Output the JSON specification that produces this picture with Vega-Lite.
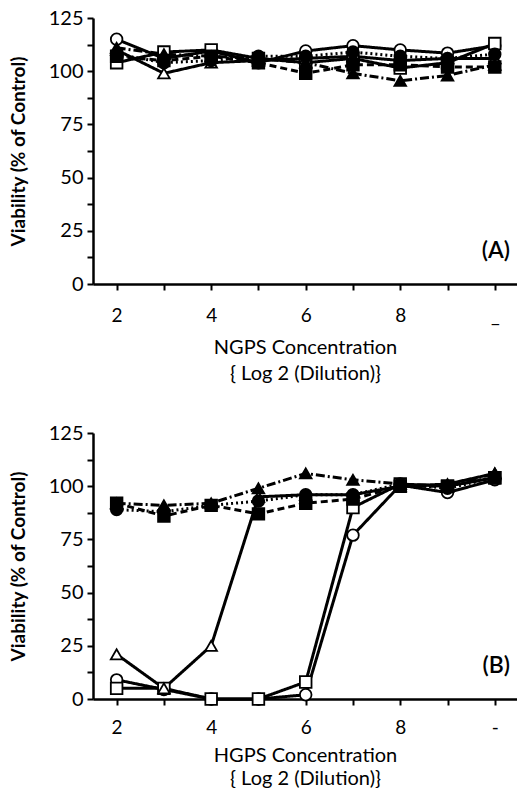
{
 "$schema": "https://vega.github.io/schema/vega-lite/v6.json",
 "padding": {"left": 9, "top": 8, "right": 0, "bottom": 0},
 "spacing": 40,
 "background": "white",
 "config": {
   "view": {"stroke": null},
   "font": "Lato",
   "axis": {"grid": false, "domainColor": "black", "domainWidth": 2.5, "tickColor": "black", "tickWidth": 2, "tickSize": 6, "labelColor": "black", "titleColor": "black", "labelFont": "Lato", "titleFont": "Lato", "labelOverlap": false, "labelFlush": false}
 },
 "datasets": {
  "d": [
   {"panel":"A","series":"s1","x":2,"y":115},{"panel":"A","series":"s1","x":3,"y":106},{"panel":"A","series":"s1","x":4,"y":109.5},{"panel":"A","series":"s1","x":5,"y":104},{"panel":"A","series":"s1","x":6,"y":109.5},{"panel":"A","series":"s1","x":7,"y":112},{"panel":"A","series":"s1","x":8,"y":110},{"panel":"A","series":"s1","x":9,"y":108.5},{"panel":"A","series":"s1","x":10,"y":112},
   {"panel":"A","series":"s2","x":2,"y":104},{"panel":"A","series":"s2","x":3,"y":109},{"panel":"A","series":"s2","x":4,"y":110},{"panel":"A","series":"s2","x":5,"y":106},{"panel":"A","series":"s2","x":6,"y":104},{"panel":"A","series":"s2","x":7,"y":106},{"panel":"A","series":"s2","x":8,"y":101.5},{"panel":"A","series":"s2","x":9,"y":104},{"panel":"A","series":"s2","x":10,"y":113},
   {"panel":"A","series":"s3","x":2,"y":110},{"panel":"A","series":"s3","x":3,"y":99},{"panel":"A","series":"s3","x":4,"y":104},{"panel":"A","series":"s3","x":5,"y":105},{"panel":"A","series":"s3","x":6,"y":106},{"panel":"A","series":"s3","x":7,"y":107},{"panel":"A","series":"s3","x":8,"y":105},{"panel":"A","series":"s3","x":9,"y":106},{"panel":"A","series":"s3","x":10,"y":106},
   {"panel":"A","series":"s4","x":2,"y":107},{"panel":"A","series":"s4","x":3,"y":105},{"panel":"A","series":"s4","x":4,"y":107},{"panel":"A","series":"s4","x":5,"y":104},{"panel":"A","series":"s4","x":6,"y":99},{"panel":"A","series":"s4","x":7,"y":103},{"panel":"A","series":"s4","x":8,"y":103},{"panel":"A","series":"s4","x":9,"y":102},{"panel":"A","series":"s4","x":10,"y":102},
   {"panel":"A","series":"s5","x":2,"y":108},{"panel":"A","series":"s5","x":3,"y":104},{"panel":"A","series":"s5","x":4,"y":105},{"panel":"A","series":"s5","x":5,"y":107},{"panel":"A","series":"s5","x":6,"y":107},{"panel":"A","series":"s5","x":7,"y":109},{"panel":"A","series":"s5","x":8,"y":107},{"panel":"A","series":"s5","x":9,"y":106},{"panel":"A","series":"s5","x":10,"y":108},
   {"panel":"A","series":"s6","x":2,"y":111},{"panel":"A","series":"s6","x":3,"y":108},{"panel":"A","series":"s6","x":4,"y":107},{"panel":"A","series":"s6","x":5,"y":106},{"panel":"A","series":"s6","x":6,"y":104},{"panel":"A","series":"s6","x":7,"y":99},{"panel":"A","series":"s6","x":8,"y":95.5},{"panel":"A","series":"s6","x":9,"y":98},{"panel":"A","series":"s6","x":10,"y":103},
   {"panel":"B","series":"s1","x":2,"y":9},{"panel":"B","series":"s1","x":3,"y":4.5},{"panel":"B","series":"s1","x":4,"y":0},{"panel":"B","series":"s1","x":5,"y":0},{"panel":"B","series":"s1","x":6,"y":2},{"panel":"B","series":"s1","x":7,"y":77},{"panel":"B","series":"s1","x":8,"y":100.5},{"panel":"B","series":"s1","x":9,"y":97},{"panel":"B","series":"s1","x":10,"y":103},
   {"panel":"B","series":"s2","x":2,"y":5},{"panel":"B","series":"s2","x":3,"y":5},{"panel":"B","series":"s2","x":4,"y":0},{"panel":"B","series":"s2","x":5,"y":0},{"panel":"B","series":"s2","x":6,"y":8},{"panel":"B","series":"s2","x":7,"y":90},{"panel":"B","series":"s2","x":8,"y":101},{"panel":"B","series":"s2","x":9,"y":100},{"panel":"B","series":"s2","x":10,"y":104},
   {"panel":"B","series":"s3","x":2,"y":21},{"panel":"B","series":"s3","x":3,"y":5},{"panel":"B","series":"s3","x":4,"y":25},{"panel":"B","series":"s3","x":5,"y":95},{"panel":"B","series":"s3","x":6,"y":96},{"panel":"B","series":"s3","x":7,"y":96},{"panel":"B","series":"s3","x":8,"y":100},{"panel":"B","series":"s3","x":9,"y":101},{"panel":"B","series":"s3","x":10,"y":106},
   {"panel":"B","series":"s4","x":2,"y":92},{"panel":"B","series":"s4","x":3,"y":86},{"panel":"B","series":"s4","x":4,"y":91},{"panel":"B","series":"s4","x":5,"y":87},{"panel":"B","series":"s4","x":6,"y":92},{"panel":"B","series":"s4","x":7,"y":94},{"panel":"B","series":"s4","x":8,"y":100},{"panel":"B","series":"s4","x":9,"y":100},{"panel":"B","series":"s4","x":10,"y":104},
   {"panel":"B","series":"s5","x":2,"y":89},{"panel":"B","series":"s5","x":3,"y":88},{"panel":"B","series":"s5","x":4,"y":91},{"panel":"B","series":"s5","x":5,"y":93},{"panel":"B","series":"s5","x":6,"y":96},{"panel":"B","series":"s5","x":7,"y":96},{"panel":"B","series":"s5","x":8,"y":101},{"panel":"B","series":"s5","x":9,"y":99},{"panel":"B","series":"s5","x":10,"y":104},
   {"panel":"B","series":"s6","x":2,"y":92},{"panel":"B","series":"s6","x":3,"y":91},{"panel":"B","series":"s6","x":4,"y":92},{"panel":"B","series":"s6","x":5,"y":99},{"panel":"B","series":"s6","x":6,"y":106},{"panel":"B","series":"s6","x":7,"y":103},{"panel":"B","series":"s6","x":8,"y":101},{"panel":"B","series":"s6","x":9,"y":100},{"panel":"B","series":"s6","x":10,"y":106}
  ]
 },
 "vconcat": [
  {
   "width": 424, "height": 266,
   "encoding": {
    "x": {"field": "x", "type": "quantitative", "scale": {"domain": [1.5, 10.47], "nice": false, "zero": false},
      "axis": {"values": [2,3,4,5,6,7,8,9,10], "labelExpr": "datum.value == 10 ? '_' : (datum.value % 2 == 0 ? datum.label : '')", "title": ["NGPS Concentration", "{ Log 2 (Dilution)}"], "titleLineHeight": 26, "titleFontSize": 20, "titleFontWeight": "normal", "labelFontSize": 19, "labelPadding": 16, "titlePadding": 12}},
    "y": {"field": "y", "type": "quantitative", "scale": {"domain": [0, 125], "nice": false},
      "axis": {"values": [0,12.5,25,37.5,50,62.5,75,87.5,100,112.5,125], "labelExpr": "datum.value % 25 == 0 ? datum.label : ''", "title": "Viability (% of Control)", "titleFontSize": 19, "titleFontWeight": "bold", "labelFontSize": 20, "titlePadding": 20, "labelPadding": 4}}
   },
   "layer": [
    {"data": {"name": "d"}, "transform": [{"filter": "datum.panel == 'A'"}],
     "mark": {"type": "line", "color": "black"},
     "encoding": {
      "detail": {"field": "series", "type": "nominal"},
      "strokeDash": {"field": "series", "type": "nominal", "scale": {"domain": ["s1","s2","s3","s4","s5","s6"], "range": [[1,0],[1,0],[1,0],[7,4],[2,3],[9,3,2,3]]}, "legend": null},
      "strokeWidth": {"field": "series", "type": "ordinal", "scale": {"domain": ["s1","s2","s3","s4","s5","s6"], "range": [3,3,1.8,3,3,3]}, "legend": null}
     }},
    {"data": {"name": "d"}, "transform": [{"filter": "datum.panel == 'A'"}],
     "mark": {"type": "point", "filled": true, "size": 135, "stroke": "black", "strokeWidth": 1.8, "opacity": 1},
     "encoding": {
      "shape": {"field": "series", "type": "nominal", "scale": {"domain": ["s1","s2","s3","s4","s5","s6"], "range": ["circle","square","triangle-up","square","circle","triangle-up"]}, "legend": null},
      "fill": {"field": "series", "type": "nominal", "scale": {"domain": ["s1","s2","s3","s4","s5","s6"], "range": ["white","white","white","black","black","black"]}, "legend": null}
     }},
    {"data": {"values": [{"x": 10.32, "y": 15.5, "t": "(A)"}]},
     "mark": {"type": "text", "fontSize": 23, "font": "Lato", "fontWeight": 600, "align": "right", "baseline": "middle", "color": "black"},
     "encoding": {"text": {"field": "t", "type": "nominal"}}}
   ]
  },
  {
   "width": 424, "height": 266,
   "encoding": {
    "x": {"field": "x", "type": "quantitative", "scale": {"domain": [1.5, 10.47], "nice": false, "zero": false},
      "axis": {"values": [2,3,4,5,6,7,8,9,10], "labelExpr": "datum.value == 10 ? '-' : (datum.value % 2 == 0 ? datum.label : '')", "title": ["HGPS Concentration", "{ Log 2 (Dilution)}"], "titleLineHeight": 23, "titleFontSize": 20, "titleFontWeight": "normal", "labelFontSize": 19, "labelPadding": 13, "titlePadding": 8}},
    "y": {"field": "y", "type": "quantitative", "scale": {"domain": [0, 125], "nice": false},
      "axis": {"values": [0,12.5,25,37.5,50,62.5,75,87.5,100,112.5,125], "labelExpr": "datum.value % 25 == 0 ? datum.label : ''", "title": "Viability (% of Control)", "titleFontSize": 19, "titleFontWeight": "bold", "labelFontSize": 20, "titlePadding": 20, "labelPadding": 4}}
   },
   "layer": [
    {"data": {"name": "d"}, "transform": [{"filter": "datum.panel == 'B'"}],
     "mark": {"type": "line", "color": "black"},
     "encoding": {
      "detail": {"field": "series", "type": "nominal"},
      "strokeDash": {"field": "series", "type": "nominal", "scale": {"domain": ["s1","s2","s3","s4","s5","s6"], "range": [[1,0],[1,0],[1,0],[7,4],[2,3],[9,3,2,3]]}, "legend": null},
      "strokeWidth": {"field": "series", "type": "ordinal", "scale": {"domain": ["s1","s2","s3","s4","s5","s6"], "range": [3,3,1.8,3,3,3]}, "legend": null}
     }},
    {"data": {"name": "d"}, "transform": [{"filter": "datum.panel == 'B'"}],
     "mark": {"type": "point", "filled": true, "size": 135, "stroke": "black", "strokeWidth": 1.8, "opacity": 1},
     "encoding": {
      "shape": {"field": "series", "type": "nominal", "scale": {"domain": ["s1","s2","s3","s4","s5","s6"], "range": ["circle","square","triangle-up","square","circle","triangle-up"]}, "legend": null},
      "fill": {"field": "series", "type": "nominal", "scale": {"domain": ["s1","s2","s3","s4","s5","s6"], "range": ["white","white","white","black","black","black"]}, "legend": null}
     }},
    {"data": {"values": [{"x": 10.32, "y": 15.4, "t": "(B)"}]},
     "mark": {"type": "text", "fontSize": 23, "font": "Lato", "fontWeight": 600, "align": "right", "baseline": "middle", "color": "black"},
     "encoding": {"text": {"field": "t", "type": "nominal"}}}
   ]
  }
 ]
}
